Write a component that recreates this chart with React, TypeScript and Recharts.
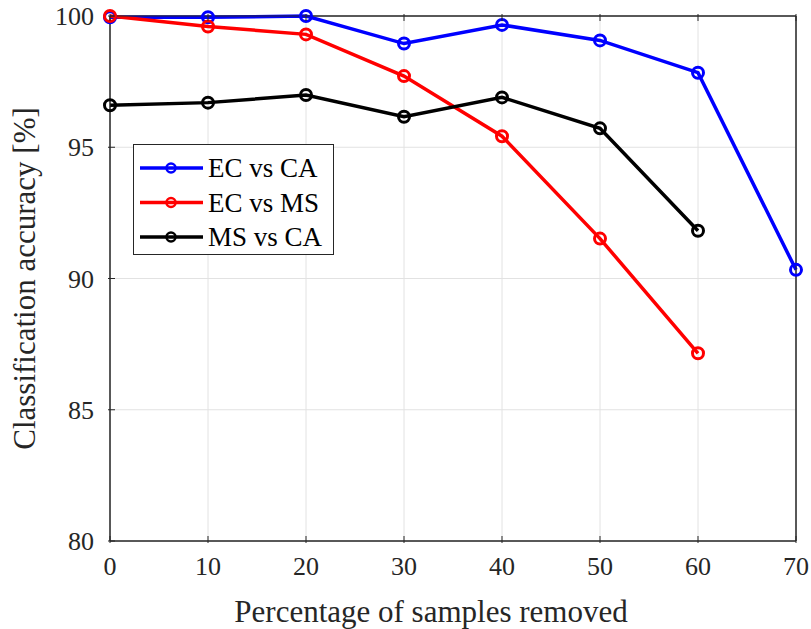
import React from "react";
import { LineChart, Line, XAxis, YAxis, CartesianGrid, Legend, ReferenceArea } from "recharts";

const removed = [0, 10, 20, 30, 40, 50, 60, 70];
const ecVsCa = [99.95, 99.95, 100, 98.95, 99.66, 99.07, 97.84, 90.33];
const ecVsMs = [100, 99.6, 99.3, 97.71, 95.42, 91.52, 87.15, null];
const msVsCa = [96.6, 96.7, 96.99, 96.16, 96.9, 95.72, 91.82, null];

const xTicks = [0, 10, 20, 30, 40, 50, 60, 70];
const yTicks = [80, 85, 90, 95, 100];

const SERIES = [
  { key: "ecVsCa", name: "EC vs CA", color: "#0000ff" },
  { key: "ecVsMs", name: "EC vs MS", color: "#ff0000" },
  { key: "msVsCa", name: "MS vs CA", color: "#000000" },
];

const rows = removed.map((x, i) => ({
  x,
  ecVsCa: ecVsCa[i],
  ecVsMs: ecVsMs[i],
  msVsCa: msVsCa[i],
}));

const FONT = "'Liberation Serif', 'Times New Roman', serif";
const AXIS = "#262626";
const TICK_LEN = 7;

function BottomTick({ x, y, payload }: any) {
  return (
    <g>
      <line x1={x} y1={y} x2={x} y2={y - TICK_LEN} stroke={AXIS} strokeWidth={1} />
      <text x={x} y={y + 32} textAnchor="middle" fontSize={26} fontFamily={FONT} fill={AXIS}>
        {payload.value}
      </text>
    </g>
  );
}

function TopTick({ x, y }: any) {
  return <line x1={x} y1={y} x2={x} y2={y + TICK_LEN} stroke={AXIS} strokeWidth={1} />;
}

function LeftTick({ x, y, payload }: any) {
  return (
    <g>
      <line x1={x} y1={y} x2={x + TICK_LEN} y2={y} stroke={AXIS} strokeWidth={1} />
      <text x={x - 14} y={y + 9} textAnchor="end" fontSize={26} fontFamily={FONT} fill={AXIS}>
        {payload.value}
      </text>
    </g>
  );
}

function RightTick({ x, y }: any) {
  return <line x1={x} y1={y} x2={x - TICK_LEN} y2={y} stroke={AXIS} strokeWidth={1} />;
}

function LegendBox() {
  return (
    <svg width={201} height={111} style={{ display: "block" }}>
      <rect x={0.5} y={0.5} width={200} height={110} fill="#fff" stroke={AXIS} strokeWidth={1} />
      {SERIES.map((s, i) => {
        const cy = 24 + i * 34.5;
        return (
          <g key={s.key}>
            <line x1={7} y1={cy} x2={70} y2={cy} stroke={s.color} strokeWidth={3.5} />
            <circle cx={38} cy={cy} r={4.5} fill="none" stroke={s.color} strokeWidth={2.5} />
            <text x={75} y={cy + 9} fontSize={27} fontFamily={FONT} fill="#000">
              {s.name}
            </text>
          </g>
        );
      })}
    </svg>
  );
}

export default function App() {
  return (
    <div style={{ width: 811, height: 629, background: "#fff" }}>
      <style>{`body{margin:0}`}</style>
      <LineChart
        width={811}
        height={629}
        data={rows}
        margin={{ top: 15, right: 14, left: 0, bottom: 0 }}
        style={{ fontFamily: FONT }}
      >
        <CartesianGrid stroke="#e2e2e2" strokeWidth={1} />
        <XAxis
          dataKey="x"
          type="number"
          domain={[0, 70]}
          ticks={xTicks}
          height={88}
          tickSize={0}
          tickLine={false}
          axisLine={{ stroke: AXIS, strokeWidth: 1 }}
          tick={<BottomTick />}
          interval={0}
          label={{
            value: "Percentage of samples removed",
            position: "insideBottom",
            offset: 7,
            dx: -22,
            style: { fontSize: 31, fontFamily: FONT, fill: AXIS },
          }}
        />
        <XAxis
          xAxisId="top"
          dataKey="x"
          type="number"
          orientation="top"
          domain={[0, 70]}
          ticks={xTicks}
          height={1}
          tickSize={0}
          tickLine={false}
          axisLine={{ stroke: AXIS, strokeWidth: 1 }}
          tick={<TopTick />}
          interval={0}
        />
        <YAxis
          type="number"
          domain={[80, 100]}
          ticks={yTicks}
          width={110}
          tickSize={0}
          tickLine={false}
          axisLine={{ stroke: AXIS, strokeWidth: 1 }}
          tick={<LeftTick />}
          interval={0}
          label={{
            value: "Classification accuracy [%]",
            angle: -90,
            position: "insideLeft",
            offset: 24,
            style: { fontSize: 31, fontFamily: FONT, fill: AXIS, textAnchor: "middle" },
          }}
        />
        <YAxis
          yAxisId="right"
          type="number"
          orientation="right"
          domain={[80, 100]}
          ticks={yTicks}
          width={1}
          tickSize={0}
          tickLine={false}
          axisLine={{ stroke: AXIS, strokeWidth: 1 }}
          tick={<RightTick />}
          interval={0}
        />
        <ReferenceArea x1={0} x2={70} y1={80} y2={100} fill="none" stroke={AXIS} strokeWidth={1} />
        <Legend
          layout="vertical"
          align="center"
          verticalAlign="middle"
          content={() => <LegendBox />}
          wrapperStyle={{ left: 133, top: 144, width: 201, height: 111 }}
        />
        {SERIES.map((s) => (
          <Line
            key={s.key}
            dataKey={s.key}
            name={s.name}
            type="linear"
            stroke={s.color}
            strokeWidth={3.5}
            dot={{ r: 5.5, stroke: s.color, strokeWidth: 3, fill: "none" }}
            activeDot={false}
            connectNulls={false}
            isAnimationActive={false}
          />
        ))}
      </LineChart>
    </div>
  );
}
